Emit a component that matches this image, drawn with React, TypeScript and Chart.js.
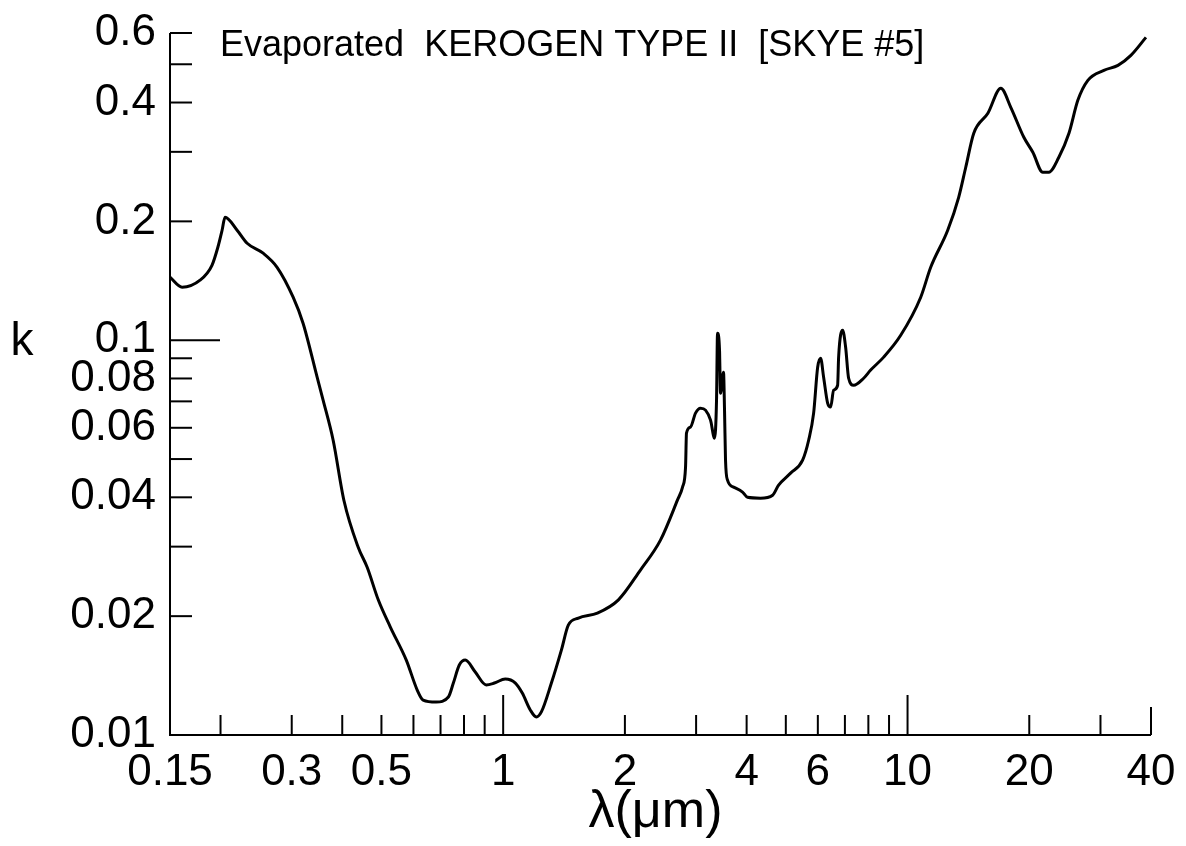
import React, { useEffect, useRef } from "react";
import { Chart, registerables } from "chart.js";

Chart.register(...registerables);

// wavelength in micrometres
const wavelength = [
  0.15, 0.1607, 0.178, 0.1905, 0.197, 0.2018, 0.2052, 0.2198, 0.2327, 0.2549,
  0.276, 0.3024, 0.32, 0.3467, 0.3587, 0.3798, 0.404, 0.438, 0.461,
  0.491, 0.526, 0.576, 0.613, 0.634, 0.683, 0.732, 0.753, 0.779, 0.806,
  0.853, 0.908, 0.951, 1.012, 1.072, 1.115, 1.167, 1.208, 1.243, 1.316,
  1.393, 1.449, 1.535, 1.71, 1.928, 2.185, 2.449, 2.699, 2.777, 2.825,
  2.84, 2.905, 2.99, 3.076, 3.165, 3.257, 3.332, 3.37, 3.389, 3.428,
  3.447, 3.507, 3.527, 3.547, 3.588, 3.713, 3.908, 4.02, 4.33, 4.638,
  4.799, 5.138, 5.502, 5.694, 5.858, 5.994, 6.096, 6.201, 6.344, 6.454,
  6.565, 6.716, 6.754, 6.91, 7.029, 7.15, 7.357, 7.788, 8.106, 8.73,
  9.618, 10.78, 11.41, 12.57, 13.38, 13.93, 14.58, 15.8, 17.01, 18.0,
  19.39, 20.41, 21.6, 22.35, 23.67, 25.07, 26.37, 27.92, 30.59, 33.14,
  35.67, 38.87,
];

// imaginary refractive index k
const kValues = [
  0.1444, 0.1362, 0.1419, 0.1548, 0.172, 0.1899, 0.2048, 0.1899, 0.176, 0.1661,
  0.153, 0.1285, 0.1104, 0.0806, 0.0705, 0.0558, 0.0392, 0.0299, 0.0266,
  0.022, 0.01877, 0.01548, 0.013, 0.01226, 0.01212, 0.01248, 0.01354, 0.01504, 0.01548,
  0.01444, 0.01339, 0.01354, 0.01386, 0.01354, 0.01277, 0.01157, 0.01111, 0.01144, 0.01354,
  0.01641, 0.01898, 0.01978, 0.02036, 0.022, 0.02617, 0.03116, 0.0394, 0.04245, 0.0477,
  0.05816, 0.06023, 0.06535, 0.06728, 0.0665, 0.06273, 0.05648, 0.0705, 0.1041, 0.0943,
  0.0734, 0.083, 0.0665, 0.0497, 0.0442, 0.04245, 0.04123, 0.04, 0.0398, 0.0405,
  0.04295, 0.04606, 0.0497, 0.0558, 0.06535, 0.0854, 0.09, 0.0806, 0.0693, 0.0677,
  0.0747, 0.0769, 0.0906, 0.106, 0.096, 0.0801, 0.0769, 0.0801, 0.084, 0.0906,
  0.1029, 0.1285, 0.153, 0.1899, 0.2301, 0.2742, 0.3343, 0.3756, 0.4345, 0.389,
  0.3266, 0.2992, 0.2663, 0.2663, 0.2906, 0.3343, 0.4051, 0.4552, 0.4826, 0.4969,
  0.5266, 0.5849,
];

const xTickValues = [
  0.15, 0.2, 0.3, 0.4, 0.5, 0.6, 0.7, 0.8, 0.9, 1, 2, 3, 4, 5, 6, 7, 8, 9, 10, 20, 30, 40,
];
const xTickLabels = ["0.15", "0.3", "0.5", "1", "2", "4", "6", "10", "20", "40"];
const xLongTicks = [1, 10];

const yTickValues = [
  0.01, 0.02, 0.03, 0.04, 0.05, 0.06, 0.07, 0.08, 0.09, 0.1, 0.2, 0.3, 0.4, 0.5, 0.6,
];
const yTickLabels = ["0.01", "0.02", "0.04", "0.06", "0.08", "0.1", "0.2", "0.4", "0.6"];
const yLongTicks = [0.1];

const titleText = "Evaporated  KEROGEN TYPE II  [SKYE #5]";
const xTitle = "λ(μm)";
const yTitle = "k";

const FONT = '"Liberation Sans", Arial, sans-serif';

const near = (a: number, b: number) => Math.abs(a - b) < 1e-9;

export default function App() {
  const ref = useRef<HTMLCanvasElement | null>(null);

  useEffect(() => {
    if (!ref.current) return;

    const decor = {
      id: "decor",
      afterDraw(chart: any) {
        const ctx = chart.ctx;
        const { left, bottom, top, right } = chart.chartArea;
        const xs = chart.scales.x;
        const ys = chart.scales.y;
        ctx.save();
        ctx.strokeStyle = "#000";
        ctx.lineWidth = 2;
        ctx.lineCap = "butt";
        for (const v of yTickValues) {
          if (near(v, 0.01)) continue;
          const py = ys.getPixelForValue(v);
          const len = yLongTicks.some((t) => near(t, v)) ? 50 : 22;
          ctx.beginPath();
          ctx.moveTo(left, py);
          ctx.lineTo(left + len, py);
          ctx.stroke();
        }
        for (const v of xTickValues) {
          if (near(v, 0.15)) continue;
          const px = xs.getPixelForValue(v);
          let len = 20;
          if (xLongTicks.some((t) => near(t, v))) len = 40;
          if (near(v, 40)) len = 28;
          ctx.beginPath();
          ctx.moveTo(px, bottom);
          ctx.lineTo(px, bottom - len);
          ctx.stroke();
        }
        ctx.beginPath();
        ctx.moveTo(left, top);
        ctx.lineTo(left, bottom);
        ctx.lineTo(right, bottom);
        ctx.stroke();

        ctx.fillStyle = "#000";
        ctx.textBaseline = "middle";
        ctx.textAlign = "left";
        ctx.font = `36px ${FONT}`;
        ctx.fillText(titleText, left + 50, top + 13);

        ctx.textAlign = "center";
        ctx.font = `46px ${FONT}`;
        ctx.fillText(yTitle, 22, ys.getPixelForValue(0.1) + 2);

        ctx.font = `52px ${FONT}`;
        ctx.fillText(xTitle, (left + right) / 2 - 5, bottom + 78);
        ctx.restore();
      },
    };

    const chart = new Chart(ref.current, {
      type: "line",
      data: {
        datasets: [
          {
            data: wavelength.map((x, i) => ({ x, y: kValues[i] })),
            borderColor: "#000",
            borderWidth: 3,
            pointRadius: 0,
            fill: false,
            cubicInterpolationMode: "monotone",
          },
        ],
      },
      options: {
        animation: false,
        responsive: false,
        devicePixelRatio: 1,
        layout: { padding: { top: 33, right: 35, left: 0, bottom: 0 } },
        plugins: {
          legend: { display: false },
          tooltip: { enabled: false },
          title: { display: false },
        },
        scales: {
          x: {
            type: "logarithmic",
            min: 0.15,
            max: 40,
            grid: { display: false },
            border: { display: false },
            afterBuildTicks: (s: any) => {
              s.ticks = xTickValues.map((v) => ({ value: v }));
            },
            afterFit: (s: any) => {
              s.height = 111;
            },
            ticks: {
              autoSkip: false,
              maxRotation: 0,
              minRotation: 0,
              padding: 3,
              color: "#000",
              font: { family: FONT, size: 44 },
              callback: (v: any) => {
                const lab = xTickLabels.find((l) => near(parseFloat(l), Number(v)));
                return lab ?? "";
              },
            },
          },
          y: {
            type: "logarithmic",
            min: 0.01,
            max: 0.6,
            grid: { display: false },
            border: { display: false },
            afterBuildTicks: (s: any) => {
              s.ticks = yTickValues.map((v) => ({ value: v }));
            },
            afterFit: (s: any) => {
              s.width = 170;
            },
            ticks: {
              autoSkip: false,
              padding: 6,
              color: "#000",
              font: { family: FONT, size: 44 },
              callback: (v: any) => {
                const lab = yTickLabels.find((l) => near(parseFloat(l), Number(v)));
                return lab ?? "";
              },
            },
          },
        },
      },
      plugins: [decor],
    } as any);

    return () => chart.destroy();
  }, []);

  return (
    <div style={{ position: "absolute", left: 0, top: 0, width: 1186, height: 846, background: "#fff" }}>
      <canvas ref={ref} width={1186} height={846} />
    </div>
  );
}
